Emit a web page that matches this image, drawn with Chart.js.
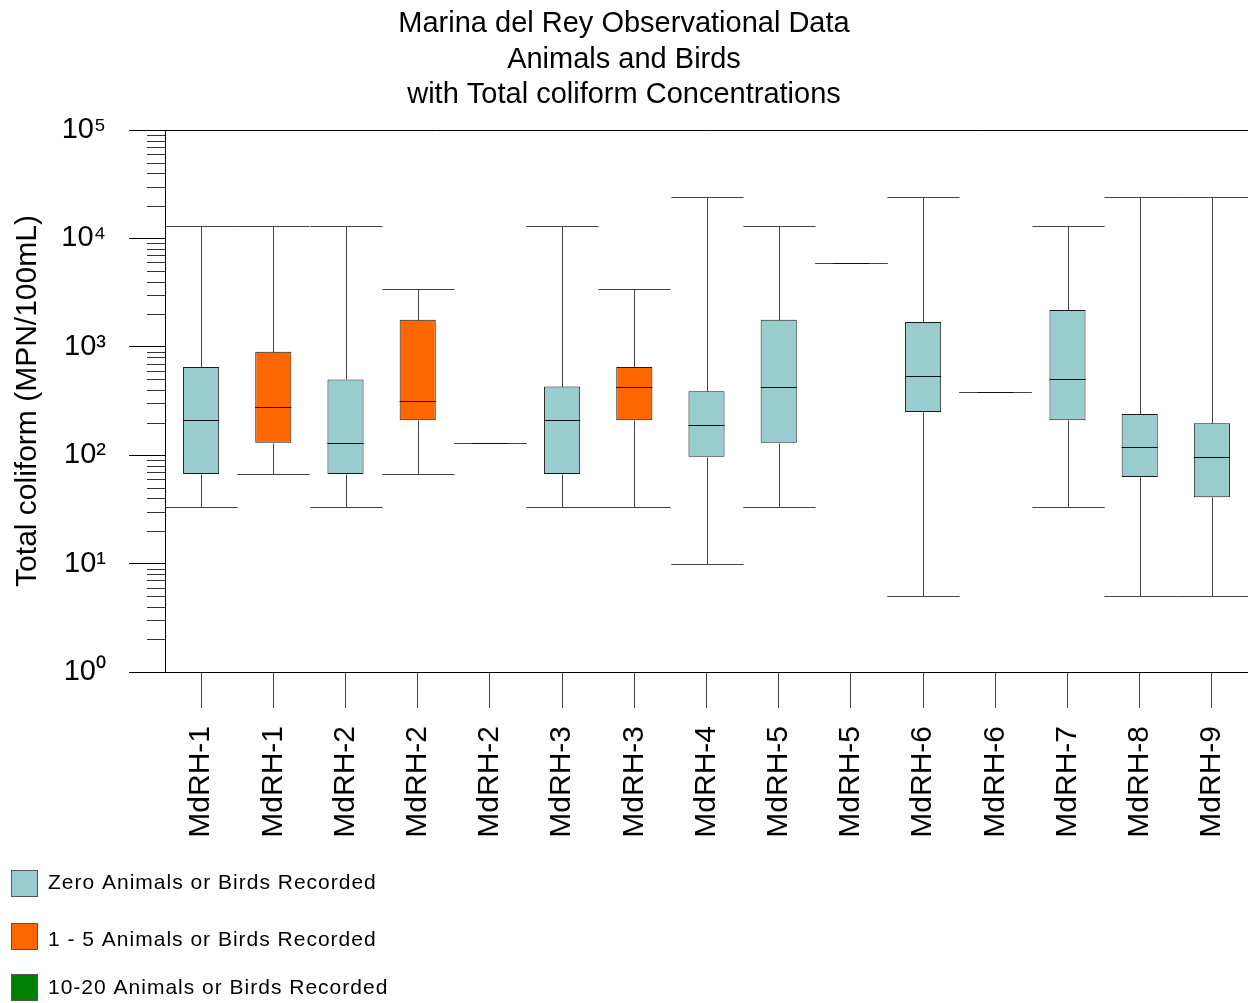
<!DOCTYPE html>
<html>
<head>
<meta charset="utf-8">
<script src="https://cdn.jsdelivr.net/npm/chart.js@4/dist/chart.umd.min.js"></script>
<style>
html,body{margin:0;padding:0;background:#fff;overflow:hidden}
canvas{display:block}
</style>
</head>
<body>
<canvas id="c" width="1248" height="1003"></canvas>
<script>
// ---- data ----
const categories = ['MdRH-1','MdRH-1','MdRH-2','MdRH-2','MdRH-2','MdRH-3','MdRH-3','MdRH-4','MdRH-5','MdRH-5','MdRH-6','MdRH-6','MdRH-7','MdRH-8','MdRH-9'];
const groups     = ['zero','low','zero','low','high','zero','low','zero','zero','high','zero','high','zero','zero','zero'];
const minVals    = [33, 67, 33, 67, 130, 33, 33, 10, 33, 5900, 5, 380, 33, 5, 5];
const q1Vals     = [67, 130, 67, 210, 130, 67, 210, 97, 130, 5900, 250, 380, 210, 63, 41];
const medianVals = [210, 280, 130, 315, 130, 210, 430, 190, 430, 5900, 540, 380, 500, 120, 97];
const q3Vals     = [650, 900, 500, 1780, 130, 430, 650, 390, 1780, 5900, 1690, 380, 2190, 240, 197];
const maxVals    = [13000, 13000, 13000, 3400, 130, 13000, 3400, 24000, 13000, 5900, 24000, 380, 13000, 24000, 24000];

const seriesKeys   = ['zero', 'low', 'high'];
const seriesNames  = ['Zero Animals or Birds Recorded', '1 - 5 Animals or Birds Recorded', '10-20 Animals or Birds Recorded'];
const seriesColors = ['#99CCCC', '#FF6600', '#008000'];

const titleLines = ['Marina del Rey Observational Data', 'Animals and Birds', 'with Total coliform Concentrations'];
const yAxisTitle = 'Total coliform (MPN/100mL)';
const yMajorTicks  = [1, 10, 100, 1000, 10000, 100000];
const yMajorLabels = ['10\u2070', '10\u00B9', '10\u00B2', '10\u00B3', '10\u2074', '10\u2075'];
const yMinorSteps  = [2, 3, 4, 5, 6, 7, 8, 9];

// ---- build ----
const FONT = "'Liberation Sans', Arial, sans-serif";
Chart.defaults.font.family = FONT;
Chart.defaults.color = '#000';

const yTickValues = [];
yMajorTicks.forEach((m, k) => {
  yTickValues.push(m);
  if (k < yMajorTicks.length - 1) yMinorSteps.forEach(s => yTickValues.push(m * s));
});
const isMajor = v => yMajorTicks.includes(v);

const datasets = seriesKeys.map((key, s) => ({
  type: 'bar',
  label: seriesNames[s],
  data: categories.map((c, i) => groups[i] === key ? [q1Vals[i], q3Vals[i]] : null),
  backgroundColor: seriesColors[s],
  borderColor: '#1a1a1a',
  borderWidth: 1,
  borderSkipped: false,
  grouped: false,
  categoryPercentage: 1,
  barPercentage: 0.5
}));

const whiskerPlugin = {
  id: 'whiskers',
  beforeDatasetsDraw(chart) {
    const {ctx, scales: {x, y}} = chart;
    const half = (x.getPixelForValue(1) - x.getPixelForValue(0)) / 2;
    const py = v => Math.round(y.getPixelForValue(v)) + 0.5;
    ctx.save();
    ctx.lineWidth = 1;
    ctx.strokeStyle = '#444';
    ctx.beginPath();
    categories.forEach((c, i) => {
      const xc = Math.round(x.getPixelForValue(i)) + 0.5;
      ctx.moveTo(xc, py(maxVals[i])); ctx.lineTo(xc, py(q3Vals[i]));
      ctx.moveTo(xc, py(q1Vals[i])); ctx.lineTo(xc, py(minVals[i]));
      ctx.moveTo(xc - half, py(maxVals[i])); ctx.lineTo(xc + half, py(maxVals[i]));
      ctx.moveTo(xc - half, py(minVals[i])); ctx.lineTo(xc + half, py(minVals[i]));
    });
    ctx.stroke();
    ctx.restore();
  },
  afterDatasetsDraw(chart) {
    const {ctx, scales: {x, y}} = chart;
    const half = (x.getPixelForValue(1) - x.getPixelForValue(0)) / 2;
    const boxHalf = half * 0.5;
    const py = v => Math.round(y.getPixelForValue(v)) + 0.5;
    ctx.save();
    ctx.lineWidth = 1;
    ctx.strokeStyle = '#111';
    ctx.beginPath();
    categories.forEach((c, i) => {
      const xc = x.getPixelForValue(i);
      ctx.moveTo(xc - boxHalf, py(medianVals[i])); ctx.lineTo(xc + boxHalf, py(medianVals[i]));
    });
    ctx.stroke();
    ctx.restore();
  },
  afterDraw(chart) {
    const {ctx, chartArea, scales: {y}} = chart;
    ctx.save();
    ctx.lineWidth = 1;
    // top frame line
    ctx.strokeStyle = '#000';
    ctx.beginPath();
    const ty = Math.round(chartArea.top) + 0.5;
    ctx.moveTo(chartArea.left, ty); ctx.lineTo(chartArea.right, ty);
    ctx.stroke();
    // minor y ticks
    ctx.strokeStyle = '#333';
    ctx.beginPath();
    const lx = Math.round(chartArea.left);
    y.ticks.forEach(t => {
      if (isMajor(t.value)) return;
      const yy = Math.round(y.getPixelForValue(t.value)) + 0.5;
      ctx.moveTo(lx - 18, yy); ctx.lineTo(lx, yy);
    });
    ctx.stroke();
    // legend
    const boxY = [870.5, 923.5, 974.5];
    const textY = [883, 940, 988];
    ctx.font = "21px " + FONT;
    try { ctx.letterSpacing = '1px'; } catch (e) {}
    ctx.textBaseline = 'middle';
    ctx.textAlign = 'left';
    chart.data.datasets.forEach((ds, s) => {
      ctx.fillStyle = ds.backgroundColor;
      ctx.fillRect(11.5, boxY[s], 26, 26);
      ctx.strokeStyle = '#555';
      ctx.strokeRect(11.5, boxY[s], 26, 26);
      ctx.fillStyle = '#000';
      ctx.fillText(ds.label, 48, textY[s]);
    });
    ctx.restore();
  }
};

new Chart(document.getElementById('c'), {
  type: 'bar',
  data: { labels: categories, datasets },
  options: {
    responsive: false,
    animation: false,
    devicePixelRatio: 1,
    layout: { padding: 0 },
    plugins: {
      legend: { display: false },
      tooltip: { enabled: false },
      title: {
        display: true,
        text: titleLines,
        color: '#000',
        font: { size: 29, weight: 'normal', lineHeight: '35.7px' },
        padding: { top: 6, bottom: 16.9 }
      }
    },
    scales: {
      x: {
        type: 'category',
        offset: true,
        grid: { display: true, drawOnChartArea: false, drawTicks: true, tickLength: 36, offset: false, color: '#444', tickColor: '#444' },
        border: { display: true, color: '#000', width: 1 },
        ticks: { minRotation: 90, maxRotation: 90, autoSkip: false, padding: 18, color: '#000', font: { size: 30 } },
        afterFit(scale) { scale.height = 331; scale.paddingLeft = 0; scale.paddingRight = 0; }
      },
      y: {
        type: 'logarithmic',
        min: 1,
        max: 100000,
        afterBuildTicks(scale) { scale.ticks = yTickValues.map(v => ({ value: v, major: isMajor(v) })); },
        afterFit(scale) { scale.width = 165; scale.paddingTop = 0; scale.paddingBottom = 0; },
        grid: {
          display: true, drawOnChartArea: false, drawTicks: true, tickLength: 36,
          tickColor: c => (c.tick && isMajor(c.tick.value)) ? '#000' : 'rgba(0,0,0,0)'
        },
        border: { display: true, color: '#000', width: 1 },
        ticks: {
          autoSkip: false,
          padding: 23,
          color: '#000',
          font: { size: 29 },
          callback: v => { const k = yMajorTicks.indexOf(v); return k >= 0 ? yMajorLabels[k] : ''; }
        },
        title: {
          display: true,
          text: yAxisTitle,
          color: '#000',
          font: { size: 30 },
          padding: { top: 10, bottom: 0 }
        }
      }
    }
  },
  plugins: [whiskerPlugin]
});
</script>
</body>
</html>
